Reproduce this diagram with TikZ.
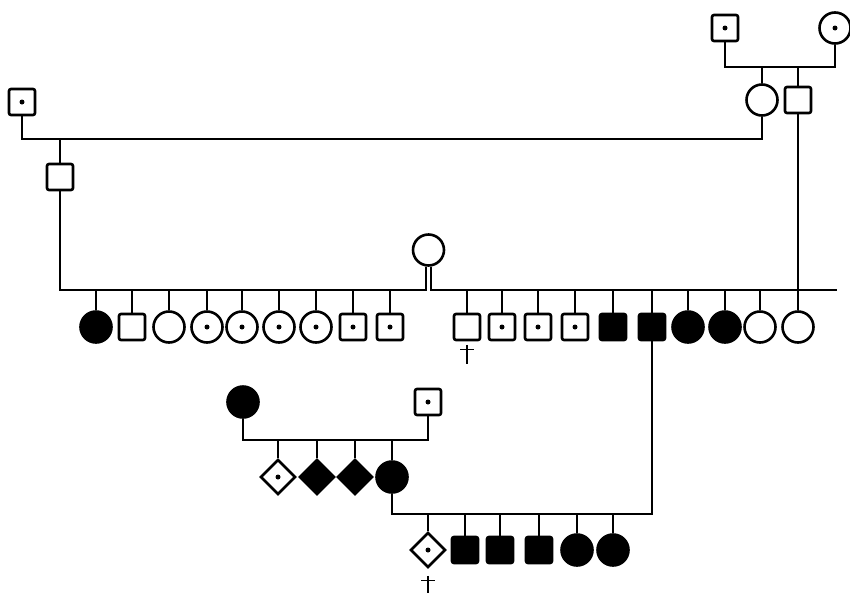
\documentclass[tikz,border=0pt]{standalone}
\usepackage{tikz}
\usetikzlibrary{shapes.geometric,calc}

\tikzset{
  sym/.style={draw,line width=2.6pt,inner sep=0pt},
  male/.style={sym,rectangle,rounded corners=2pt,minimum size=26pt},
  female/.style={sym,circle,minimum size=31pt},
  unknown/.style={sym,diamond,aspect=1,minimum width=35pt,minimum height=35pt},
  aff/.style={fill=black},
  carrier/.style={path picture={\fill (path picture bounding box.center) circle (2.5pt);}},
  maleA/.style={male,aff}, femaleA/.style={female,aff}, unknownA/.style={unknown,aff},
  maleC/.style={male,carrier}, femaleC/.style={female,carrier}, unknownC/.style={unknown,carrier},
  line/.style={line width=2.2pt},
  cross/.style={line width=1.3pt}
}
% deceased mark under a node: #1 node, #2 gap below it
\newcommand{\deadmark}[2]{%
  \draw[cross] ($(#1.south)+(0,#2)$) -- ++(0,19);
  \draw[cross] ($(#1.south)+(-7,#2+5)$) -- ++(14,0);}

\begin{document}
\begin{tikzpicture}[x=1pt,y=-1pt]
  \useasboundingbox (0,0) rectangle (850,592);

  % Top right: grandparents and their children
  \node[maleC] (tpa) at (725,28) {};
  \node[femaleC] (tma) at (835,28) {};
  \coordinate (tsib) at (780,67);
  \draw[line] (tpa) |- (tsib) -| (tma);
  \node[female] (tdau) at (762,100) {};
  \node[male] (tson) at (798,100) {};
  \draw[line] (tdau) -- (tdau |- tsib);
  \draw[line] (tson) -- (tson |- tsib);

  % Top left: father's side
  \node[maleC] (lpa) at (22,102) {};
  \coordinate (msib) at (400,139);
  \draw[line] (lpa) |- (msib) -| (tdau);
  \node[male] (lson) at (60,177) {};
  \draw[line] (lson) -- (lson |- msib);

  % Mother with two partners
  \node[female] (mom) at (428.5,250) {};
  \coordinate (mleft) at (426,290);
  \coordinate (mright) at (431,290);
  \coordinate (mend) at (837,290);
  \draw[line] (lson) |- (mleft) -- (mleft |- mom.south);
  \draw[line] (mom.south -| mright) |- (mend);

  % Children of first partner
  \foreach \x/\s [count=\i] in {96/femaleA,132/male,169/female,207/femaleC,242/femaleC,
      279/femaleC,316/femaleC,353/maleC,390/maleC} {
    \node[\s] (c\i) at (\x,327) {};
    \draw[line] (c\i) -- (c\i |- mleft);
  }

  % Children of second partner
  \foreach \x/\s [count=\i] in {467/male,502/maleC,538/maleC,575/maleC,613/maleA,
      652/maleA,688/femaleA,725/femaleA,760/female,798/female} {
    \node[\s] (d\i) at (\x,327) {};
    \draw[line] (d\i) -- (d\i |- mright);
  }
  \draw[line] (tson) -- (d10);
  \deadmark{d1}{3.5}

  % Bottom left family
  \node[femaleA] (bma) at (243,402) {};
  \node[maleC] (bpa) at (428,402) {};
  \coordinate (bsib) at (330,440);
  \draw[line] (bma) |- (bsib) -| (bpa);
  \foreach \x/\s [count=\i] in {278/unknownC,317/unknownA,355/unknownA,392/femaleA} {
    \node[\s] (e\i) at (\x,477) {};
    \draw[line] (e\i) -- (e\i |- bsib);
  }

  % Last generation
  \coordinate (fsib) at (520,514);
  \draw[line] (e4) |- (fsib) -| (d6);
  \foreach \x/\s [count=\i] in {428/unknownC,465/maleA,500/maleA,539/maleA,577/femaleA,613/femaleA} {
    \node[\s] (f\i) at (\x,550) {};
    \draw[line] (f\i) -- (f\i |- fsib);
  }
  \deadmark{f1}{7}
\end{tikzpicture}
\end{document}
